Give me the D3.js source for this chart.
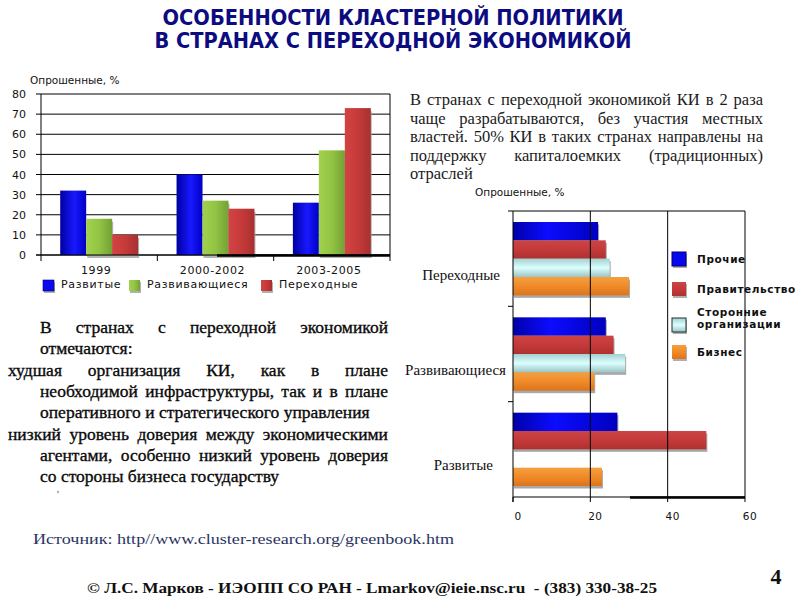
<!DOCTYPE html>
<html>
<head>
<meta charset="utf-8">
<script src="https://cdn.jsdelivr.net/npm/d3@7"></script>
<style>
  html, body { margin: 0; padding: 0; background: #fff; }
  svg { display: block; }
</style>
</head>
<body>
<svg id="chart" width="800" height="600"></svg>
<script>
// ---------- DATA ----------
const titleLines = ["ОСОБЕННОСТИ КЛАСТЕРНОЙ ПОЛИТИКИ", "В СТРАНАХ С ПЕРЕХОДНОЙ ЭКОНОМИКОЙ"];
const yAxisTitle = "Опрошенные, %";

// Left (vertical bar) chart
const periods = ["1999", "2000-2002", "2003-2005"];
const countryGroups = ["Развитые", "Развивающиеся", "Переходные"];
const developedValues = [32, 40, 26];
const developingValues = [18, 27, 52];
const transitionValues = [10, 23, 73];
const leftTicks = [0, 10, 20, 30, 40, 50, 60, 70, 80];

// Right (horizontal bar) chart
const hCategories = ["Переходные", "Развивающиеся", "Развитые"];
const sourceNames = ["Прочие", "Правительство", "Сторонние организации", "Бизнес"];
const otherValues = [22, 24, 27];
const governmentValues = [24, 26, 50];
const thirdPartyValues = [25, 29, 0];
const businessValues = [30, 21, 23];
const rightTicks = [0, 20, 40, 60];

const topText = [
  "В странах с переходной экономикой КИ в 2 раза",
  "чаще разрабатываются, без участия местных",
  "властей. 50%  КИ в таких странах направлены на",
  "поддержку капиталоемких (традиционных)",
  "отраслей"
];
const bottomText = [
  "В странах с переходной экономикой",
  "отмечаются:",
  "худшая организация КИ, как в плане",
  "необходимой инфраструктуры, так и в плане",
  "оперативного и стратегического управления",
  "низкий уровень доверия между экономическими",
  "агентами, особенно низкий уровень доверия",
  "со стороны бизнеса государству"
];
const sourceText = "Источник: http//www.cluster-research.org/greenbook.htm";
const footerText = "© Л.С. Марков - ИЭОПП СО РАН - Lmarkov@ieie.nsc.ru  - (383) 330-38-25";
const pageNumber = "4";

// ---------- DRAWING ----------
const svg = d3.select("#chart");
const defs = svg.append("defs");

function linGrad(id, horizontal, stops) {
  const g = defs.append("linearGradient").attr("id", id)
    .attr("x1", 0).attr("y1", 0)
    .attr("x2", horizontal ? 1 : 0).attr("y2", horizontal ? 0 : 1);
  stops.forEach(s => g.append("stop").attr("offset", s[0]).attr("stop-color", s[1]));
}
linGrad("gBlueV", true, [[0, "#0000a0"], [0.55, "#1818ff"], [1, "#0000c4"]]);
linGrad("gGreenV", true, [[0, "#a2d14c"], [0.5, "#92c444"], [1, "#74a036"]]);
linGrad("gRedV", true, [[0, "#d24444"], [0.5, "#c63a3a"], [1, "#a83030"]]);
linGrad("gBlueH", true, [[0, "#0000a8"], [0.4, "#0c0cff"], [1, "#0000c0"]]);
linGrad("gRedH", false, [[0, "#cc4444"], [0.5, "#c43a3a"], [1, "#b03030"]]);
linGrad("gCyanH", false, [[0, "#a4d0d0"], [0.5, "#dcffff"], [1, "#9cc4c4"]]);
linGrad("gOrangeH", false, [[0, "#f4a040"], [0.5, "#f08a28"], [1, "#dc741c"]]);

const shadowF = defs.append("filter").attr("id", "lineShadow")
  .attr("x", "-5%").attr("y", "-200%").attr("width", "110%").attr("height", "500%");
shadowF.append("feDropShadow").attr("dx", 1).attr("dy", 2).attr("stdDeviation", 1.5)
  .attr("flood-color", "#6a4a8a").attr("flood-opacity", 0.6);

// Title
svg.selectAll("text.title").data(titleLines).join("text")
  .attr("class", "title")
  .attr("x", 393).attr("y", (d, i) => 25 + i * 23)
  .attr("text-anchor", "middle")
  .attr("font-family", "'Liberation Sans Narrow', 'DejaVu Sans Condensed', 'Arial Narrow', sans-serif")
  .attr("font-weight", "bold").attr("font-size", 21)
  .attr("fill", "#0c0c80")
  .attr("textLength", (d, i) => i === 0 ? 461 : 477)
  .attr("lengthAdjust", "spacingAndGlyphs")
  .text(d => d);

// Red decorative lines
svg.append("line").attr("x1", 43).attr("x2", 721).attr("y1", 63).attr("y2", 63)
  .attr("stroke", "#e0101c").attr("stroke-width", 4).attr("filter", "url(#lineShadow)");
svg.append("line").attr("x1", 96).attr("x2", 663).attr("y1", 70).attr("y2", 70)
  .attr("stroke", "#e0101c").attr("stroke-width", 4).attr("filter", "url(#lineShadow)");

const sansFont = "'DejaVu Sans', Verdana, sans-serif";
const serifFont = "'Liberation Serif', 'Times New Roman', serif";

// ---------- LEFT CHART ----------
const L = { left: 41, right: 390, top: 94, bottom: 255 };
const x0 = d3.scaleBand().domain(periods).range([L.left, L.right]);
const x1 = d3.scaleBand().domain(countryGroups).range([0, x0.bandwidth()]).paddingOuter(0.74).paddingInner(0);
const yL = d3.scaleLinear().domain([0, 80]).range([L.bottom, L.top]);
const leftSeries = [developedValues, developingValues, transitionValues];
const leftFills = ["url(#gBlueV)", "url(#gGreenV)", "url(#gRedV)"];
const leftLegendFills = ["#0a0af0", "url(#gGreenV)", "url(#gRedV)"];

svg.append("text").attr("x", 30).attr("y", 84)
  .attr("font-family", sansFont).attr("font-size", 10.5).attr("fill", "#111")
  .text(yAxisTitle);

const gL = svg.append("g");
gL.selectAll("line.grid").data(leftTicks).join("line")
  .attr("x1", L.left - 5).attr("x2", L.right)
  .attr("y1", d => yL(d)).attr("y2", d => yL(d))
  .attr("stroke", "#000").attr("stroke-width", 1);

const barData = [];
periods.forEach((p, i) => countryGroups.forEach((g, j) => barData.push({ p, g, v: leftSeries[j][i], j })));
gL.selectAll("rect.shadow").data(barData).join("rect")
  .attr("x", d => x0(d.p) + x1(d.g) + 1)
  .attr("y", d => yL(d.v) + 3)
  .attr("width", x1.bandwidth())
  .attr("height", d => yL(0) - yL(d.v))
  .attr("fill", "#a0a0a0").attr("opacity", d => d.j === 0 ? 0 : 0.8);
gL.selectAll("rect.bar").data(barData).join("rect")
  .attr("x", d => x0(d.p) + x1(d.g))
  .attr("y", d => yL(d.v))
  .attr("width", x1.bandwidth())
  .attr("height", d => yL(0) - yL(d.v))
  .attr("fill", d => leftFills[d.j]);

gL.append("line").attr("x1", L.left).attr("x2", L.left).attr("y1", L.top).attr("y2", L.bottom + 6).attr("stroke", "#000");
gL.append("line").attr("x1", L.right).attr("x2", L.right).attr("y1", L.top).attr("y2", L.bottom + 6).attr("stroke", "#000");
gL.append("line").attr("x1", L.left - 5).attr("x2", L.right).attr("y1", yL(0)).attr("y2", yL(0)).attr("stroke", "#000");
gL.append("line").attr("x1", 217).attr("x2", L.right).attr("y1", yL(0) + 0.5).attr("y2", yL(0) + 0.5).attr("stroke", "#000").attr("stroke-width", 2.5);
gL.selectAll("line.ctick").data(periods.slice(1)).join("line")
  .attr("x1", d => x0(d)).attr("x2", d => x0(d))
  .attr("y1", L.bottom).attr("y2", L.bottom + 6).attr("stroke", "#000");

gL.selectAll("text.ytick").data(leftTicks).join("text")
  .attr("x", 26).attr("y", d => yL(d) + 4)
  .attr("text-anchor", "end")
  .attr("font-family", sansFont).attr("font-size", 11).attr("fill", "#111")
  .text(d => d);
gL.selectAll("text.xlab").data(periods).join("text")
  .attr("x", d => x0(d) + x0.bandwidth() / 2 - 3).attr("y", 274)
  .attr("text-anchor", "middle")
  .attr("font-family", sansFont).attr("font-size", 11).attr("letter-spacing", 0.6).attr("fill", "#111")
  .text(d => d);

const legL = d3.scaleOrdinal().domain(countryGroups).range([43, 129, 261]);
countryGroups.forEach((g, j) => {
  svg.append("rect").attr("x", legL(g) + 1).attr("y", 282).attr("width", 11).attr("height", 11).attr("fill", "#b0b0b0");
  svg.append("rect").attr("x", legL(g)).attr("y", 280).attr("width", 11).attr("height", 11)
    .attr("fill", leftLegendFills[j]).attr("stroke", j === 0 ? "#000060" : "none").attr("stroke-width", 0.6);
  svg.append("text").attr("x", legL(g) + 18).attr("y", 288)
    .attr("font-family", sansFont).attr("font-size", 11).attr("letter-spacing", 0.7).attr("fill", "#111")
    .text(g);
});

// ---------- RIGHT CHART ----------
const R = { left: 513, right: 745, top: 211, bottom: 497 };
const xR = d3.scaleLinear().domain([0, 60]).range([R.left, R.right]);
const yR0 = d3.scaleBand().domain(hCategories).range([R.top, R.bottom]);
const yR1 = d3.scaleBand().domain(sourceNames).range([0, yR0.bandwidth()]).paddingOuter(0.6).paddingInner(0);
const rightSeries = [otherValues, governmentValues, thirdPartyValues, businessValues];
const rightFills = ["url(#gBlueH)", "url(#gRedH)", "url(#gCyanH)", "url(#gOrangeH)"];

svg.append("text").attr("x", 475).attr("y", 196)
  .attr("font-family", sansFont).attr("font-size", 10.5).attr("fill", "#111")
  .text(yAxisTitle);

const gR = svg.append("g");
const hData = [];
hCategories.forEach((c, i) => sourceNames.forEach((s, j) => hData.push({ c, s, v: rightSeries[j][i], j })));
const hVisible = hData.filter(d => d.v > 0);
gR.selectAll("rect.shadow").data(hVisible).join("rect")
  .attr("x", xR(0) + 1).attr("y", d => yR0(d.c) + yR1(d.s) + 2.5)
  .attr("width", d => xR(d.v) - xR(0)).attr("height", yR1.bandwidth())
  .attr("fill", "#a8a8a8");
gR.selectAll("rect.bar").data(hVisible).join("rect")
  .attr("x", xR(0)).attr("y", d => yR0(d.c) + yR1(d.s))
  .attr("width", d => xR(d.v) - xR(0)).attr("height", yR1.bandwidth())
  .attr("fill", d => rightFills[d.j]);

gR.selectAll("line.vgrid").data(rightTicks.slice(1)).join("line")
  .attr("x1", d => xR(d)).attr("x2", d => xR(d))
  .attr("y1", R.top).attr("y2", R.bottom)
  .attr("stroke", "#000");
gR.append("line").attr("x1", R.left).attr("x2", R.right).attr("y1", R.top).attr("y2", R.top).attr("stroke", "#000");
gR.append("line").attr("x1", R.left).attr("x2", R.left).attr("y1", R.top).attr("y2", R.bottom + 5).attr("stroke", "#000");
gR.append("line").attr("x1", R.left).attr("x2", R.right).attr("y1", R.bottom).attr("y2", R.bottom).attr("stroke", "#000");
gR.append("line").attr("x1", 630).attr("x2", R.right).attr("y1", R.bottom + 0.5).attr("y2", R.bottom + 0.5).attr("stroke", "#000").attr("stroke-width", 2.5);
gR.selectAll("line.catTick").data(hCategories.slice(1)).join("line")
  .attr("x1", R.left - 5).attr("x2", R.left)
  .attr("y1", d => yR0(d)).attr("y2", d => yR0(d)).attr("stroke", "#000");
gR.append("line").attr("x1", R.left - 5).attr("x2", R.left).attr("y1", R.top).attr("y2", R.top).attr("stroke", "#000");
gR.selectAll("line.xt").data(rightTicks).join("line")
  .attr("x1", d => xR(d)).attr("x2", d => xR(d))
  .attr("y1", R.bottom).attr("y2", R.bottom + 5).attr("stroke", "#000");
gR.selectAll("text.xtl").data(rightTicks).join("text")
  .attr("x", d => xR(d) + 5).attr("y", 520)
  .attr("text-anchor", "middle")
  .attr("font-family", sansFont).attr("font-size", 10.5).attr("letter-spacing", 0.5).attr("fill", "#111")
  .text(d => d);

const catLabelShift = [-6, 0, -13];
gR.selectAll("text.cat").data(hCategories).join("text")
  .attr("x", (d, i) => 506 + catLabelShift[i])
  .attr("y", d => yR0(d) + yR0.bandwidth() / 2 + 21)
  .attr("text-anchor", "end")
  .attr("font-family", serifFont).attr("font-size", 15).attr("fill", "#111")
  .text(d => d);

const legRY = [252, 282, 318, 345];
const legendSquareFills = ["#0808ee", "url(#gRedH)", "url(#gCyanH)", "url(#gOrangeH)"];
sourceNames.forEach((s, j) => {
  svg.append("rect").attr("x", 673).attr("y", legRY[j] + 2).attr("width", 14).attr("height", 14).attr("fill", "#b0b0b0");
  svg.append("rect").attr("x", 672).attr("y", legRY[j]).attr("width", 14).attr("height", 14)
    .attr("fill", legendSquareFills[j])
    .attr("stroke", j === 0 ? "#000070" : (j === 2 ? "#203030" : "none")).attr("stroke-width", 1);
  const parts = j === 2 ? ["Сторонние", "организации"] : [s];
  parts.forEach((p, k) => {
    svg.append("text")
      .attr("x", 697)
      .attr("y", parts.length === 1 ? legRY[j] + 11 : legRY[j] - 2 + k * 12)
      .attr("font-family", sansFont).attr("font-weight", "bold").attr("font-size", 10.5)
      .attr("letter-spacing", 0.6).attr("fill", "#111")
      .text(p);
  });
});

// ---------- TEXT BLOCKS ----------
function drawLine(str, xa, xb, y, justify, size, color, strokeW) {
  const words = str.split(/\s+/).filter(w => w.length);
  const g = svg.append("g");
  const nodes = words.map(w => g.append("text")
    .attr("y", y).attr("font-family", serifFont).attr("font-size", size)
    .attr("fill", color)
    .attr("stroke", strokeW ? color : "none").attr("stroke-width", strokeW || 0)
    .text(w));
  const widths = nodes.map(n => n.node().getComputedTextLength());
  const total = d3.sum(widths);
  let gap = size * 0.25;
  if (justify && words.length > 1) gap = (xb - xa - total) / (words.length - 1);
  let cx = xa;
  nodes.forEach((n, i) => { n.attr("x", cx); cx += widths[i] + gap; });
}

const topJust = [true, true, true, true, false];
topText.forEach((t, i) => drawLine(t, 410, 763, 105 + i * 18.5, topJust[i], 16.5, "#1a1a1a", 0));

const bStarts = [40, 40, 8, 40, 40, 8, 40, 40];
const bJust = [true, false, true, true, false, true, true, false];
const bY = [333, 354, 376, 397, 418, 440, 461, 482];
bottomText.forEach((t, i) => drawLine(t, bStarts[i], 388, bY[i], bJust[i], 17.5, "#0a0a0a", 0.35));
svg.append("text").attr("x", 57).attr("y", 498).attr("font-family", serifFont).attr("font-size", 10).attr("fill", "#333").text("'");

svg.append("text").attr("x", 33).attr("y", 544)
  .attr("font-family", serifFont).attr("font-size", 14.5).attr("fill", "#2a3462")
  .attr("textLength", 421).attr("lengthAdjust", "spacingAndGlyphs")
  .text(sourceText);
svg.append("text").attr("x", 87).attr("y", 593)
  .attr("font-family", serifFont).attr("font-size", 14.5).attr("font-weight", "bold").attr("fill", "#111")
  .attr("textLength", 570).attr("lengthAdjust", "spacingAndGlyphs")
  .attr("xml:space", "preserve")
  .text(footerText);
svg.append("text").attr("x", 776).attr("y", 584)
  .attr("text-anchor", "middle")
  .attr("font-family", serifFont).attr("font-size", 22).attr("font-weight", "bold").attr("fill", "#111")
  .text(pageNumber);
</script>
</body>
</html>
